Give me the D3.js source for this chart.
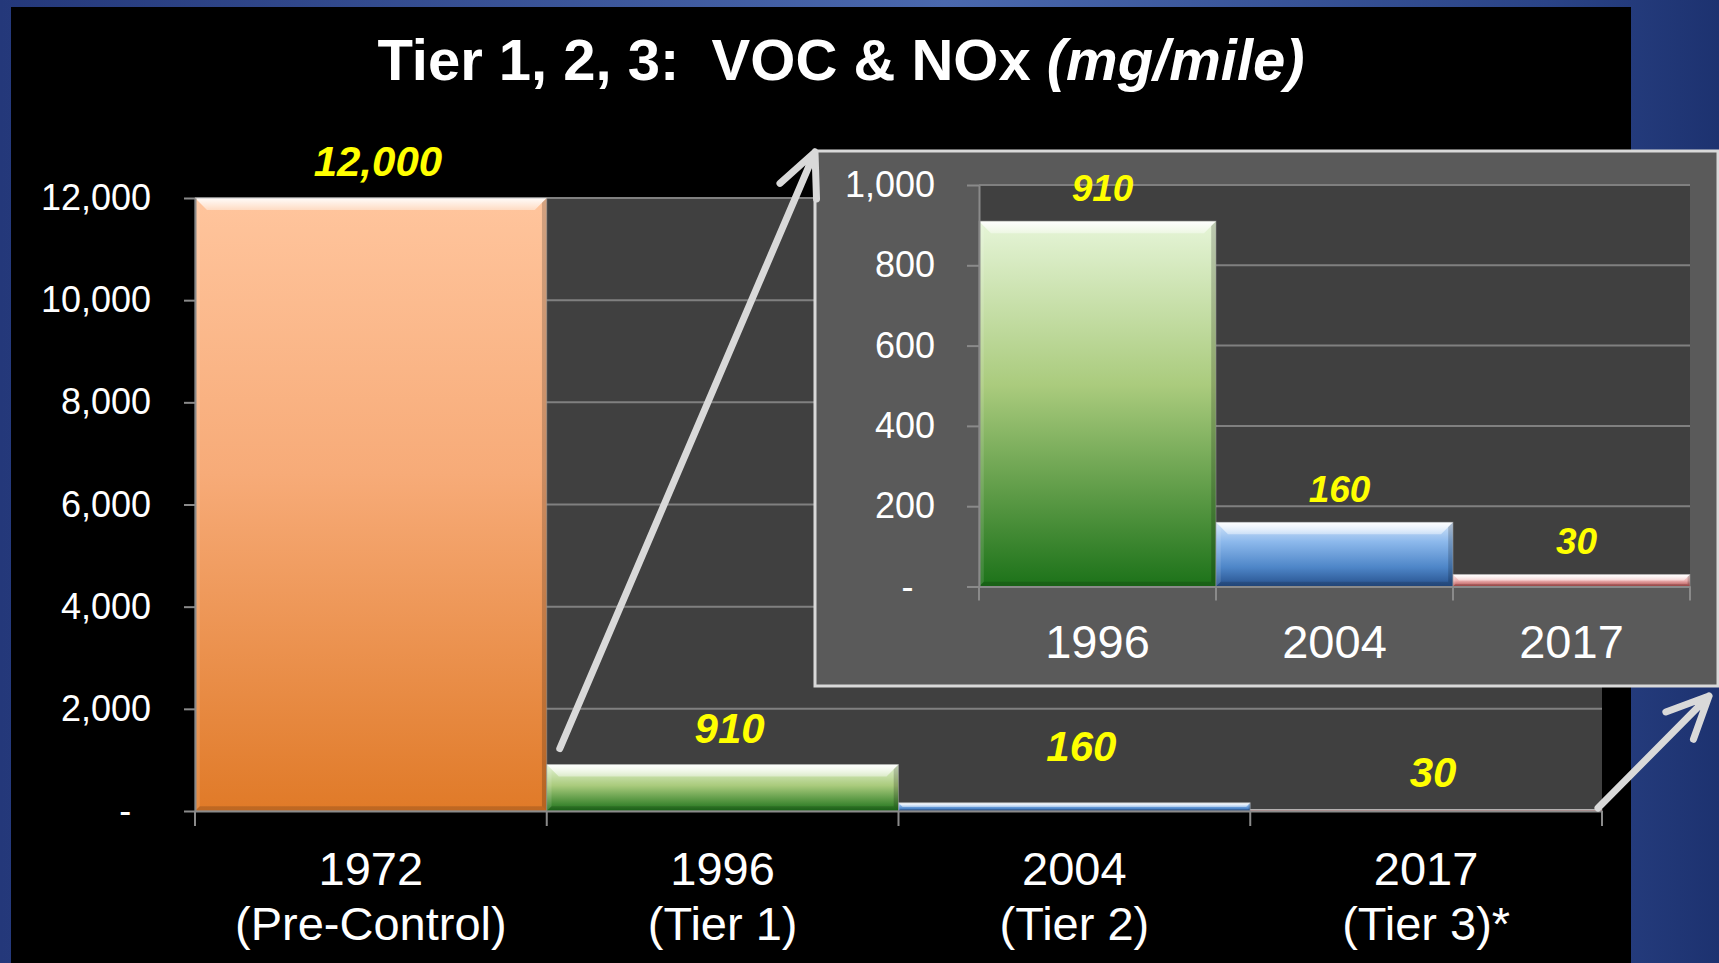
<!DOCTYPE html>
<html>
<head>
<meta charset="utf-8">
<script src="https://cdn.jsdelivr.net/npm/d3@7"></script>
<style>
  html, body { margin: 0; padding: 0; background: #000; overflow: hidden; }
  svg { display: block; }
  text { font-family: "Liberation Sans", Arial, Helvetica, sans-serif; }
</style>
</head>
<body>
<svg id="chart" width="1719" height="963"></svg>
<script>
// ---------------- data ----------------
const mainYears  = ["1972", "1996", "2004", "2017"];
const mainTiers  = ["(Pre-Control)", "(Tier 1)", "(Tier 2)", "(Tier 3)*"];
const mainValues = [12000, 910, 160, 30];
const mainTicks  = [0, 2000, 4000, 6000, 8000, 10000, 12000];

const insetYears  = ["1996", "2004", "2017"];
const insetValues = [910, 160, 30];
const insetTicks  = [0, 200, 400, 600, 800, 1000];

const titleMain   = "Tier 1, 2, 3:  VOC & NOx ";
const titleItalic = "(mg/mile)";

// ---------------- styles ----------------
const barGradients = {
  "1972": [["0%", "#FFC59D"], ["45%", "#F7AB78"], ["100%", "#E07A28"]],
  "1996": [["0%", "#E6F5D8"], ["45%", "#AACB7D"], ["100%", "#1C7219"]],
  "2004": [["0%", "#D5E6FA"], ["30%", "#8DB9EC"], ["70%", "#4E86C8"], ["100%", "#26508C"]],
  "2017": [["0%", "#FBE6E6"], ["50%", "#EDB2B2"], ["100%", "#B04A4A"]]
};
const gridColor = "#808080";
const axisColor = "#8a8a8a";
const labelColor = "#FFFF00";
const mainLabelLift = { "2004": 20 };   // manual nudge of the 160 label in the main chart

const svg = d3.select("#chart");
const W = 1719, H = 963;
const defs = svg.append("defs");

// background (blue frame)
const bg = defs.append("linearGradient").attr("id", "bgGrad")
  .attr("x1", "0%").attr("y1", "0%").attr("x2", "100%").attr("y2", "0%");
[["0%", "#24387a"], ["55%", "#4a68ad"], ["90%", "#2a4386"], ["100%", "#1d3270"]]
  .forEach(s => bg.append("stop").attr("offset", s[0]).attr("stop-color", s[1]));
svg.append("rect").attr("width", W).attr("height", H).attr("fill", "url(#bgGrad)");
svg.append("rect").attr("x", 11).attr("y", 7).attr("width", 1631 - 11).attr("height", H - 7).attr("fill", "#000");

// gradients for bars
Object.entries(barGradients).forEach(([k, stops]) => {
  const g = defs.append("linearGradient").attr("id", "bar" + k)
    .attr("x1", 0).attr("y1", 0).attr("x2", 0).attr("y2", 1);
  stops.forEach(s => g.append("stop").attr("offset", s[0]).attr("stop-color", s[1]));
});
const bevel = defs.append("linearGradient").attr("id", "bevelTop")
  .attr("x1", 0).attr("y1", 0).attr("x2", 0).attr("y2", 1);
bevel.append("stop").attr("offset", "0%").attr("stop-color", "#fff").attr("stop-opacity", 0.95);
bevel.append("stop").attr("offset", "100%").attr("stop-color", "#fff").attr("stop-opacity", 0.4);

// title
const title = svg.append("text").attr("x", 841).attr("y", 80).attr("text-anchor", "middle")
  .attr("fill", "#fff").attr("font-size", 58).attr("font-weight", "bold");
title.append("tspan").text(titleMain).style("white-space", "pre");
title.append("tspan").attr("font-style", "italic").text(titleItalic);
title.attr("xml:space", "preserve");

// bar drawing with bevel
function drawBar(g, x, y, w, h, key, bevelMax) {
  const b = Math.min(bevelMax, h * 0.5);
  g.append("rect").attr("x", x).attr("y", y).attr("width", w).attr("height", h)
    .attr("fill", `url(#bar${key})`);
  g.append("path")
    .attr("d", `M${x},${y}L${x + w},${y}L${x + w - b},${y + b}L${x + b},${y + b}Z`)
    .attr("fill", "url(#bevelTop)");
  g.append("path")
    .attr("d", `M${x + w},${y}L${x + w},${y + h}L${x + w - b * 0.4},${y + h - b * 0.4}L${x + w - b * 0.4},${y + b * 0.4}Z`)
    .attr("fill", "#000").attr("opacity", 0.18);
  g.append("path")
    .attr("d", `M${x},${y}L${x},${y + h}L${x + b * 0.4},${y + h - b * 0.4}L${x + b * 0.4},${y + b * 0.4}Z`)
    .attr("fill", "#fff").attr("opacity", 0.12);
  g.append("path")
    .attr("d", `M${x},${y + h}L${x + w},${y + h}L${x + w - b * 0.4},${y + h - b * 0.4}L${x + b * 0.4},${y + h - b * 0.4}Z`)
    .attr("fill", "#000").attr("opacity", 0.15);
  g.append("rect").attr("x", x).attr("y", y).attr("width", w).attr("height", h)
    .attr("fill", "none").attr("stroke", "#9a9a9a").attr("stroke-opacity", 0.55).attr("stroke-width", 1);
}

const fmt = d => d === 0 ? "-" : d3.format(",")(d);

function styleAxis(g) {
  g.select(".domain").attr("stroke", axisColor).attr("stroke-width", 2);
  g.selectAll(".tick line").attr("stroke", axisColor).attr("stroke-width", 2);
  g.selectAll(".tick text").attr("fill", "#fff")
    .style("font-family", '"Liberation Sans", Arial, Helvetica, sans-serif').attr("font-size", 36);
}

// ---------------- main chart ----------------
const xMain = d3.scaleBand().domain(mainYears).range([195, 1602]).padding(0);
const yMain = d3.scaleLinear().domain([0, 12000]).range([811, 198]);

const main = svg.append("g");
main.append("rect").attr("x", xMain.range()[0]).attr("y", yMain(12000))
  .attr("width", xMain.range()[1] - xMain.range()[0]).attr("height", yMain(0) - yMain(12000))
  .attr("fill", "#404040");
main.append("g").selectAll("line").data(mainTicks.filter(d => d > 0)).join("line")
  .attr("x1", xMain.range()[0]).attr("x2", xMain.range()[1])
  .attr("y1", d => yMain(d)).attr("y2", d => yMain(d))
  .attr("stroke", gridColor).attr("stroke-width", 2);

const mainBars = main.append("g");
mainYears.forEach((yr, i) => {
  const v = mainValues[i];
  drawBar(mainBars, xMain(yr), yMain(v), xMain.bandwidth(), yMain(0) - yMain(v), yr, 12);
});

const yAxisMain = main.append("g").attr("transform", `translate(${xMain.range()[0]},0)`)
  .call(d3.axisLeft(yMain).tickValues(mainTicks).tickFormat(fmt).tickSize(11).tickPadding(33).tickSizeOuter(0));
styleAxis(yAxisMain);
yAxisMain.selectAll(".tick text").filter(d => d === 0).attr("dx", "-0.55em");

const xAxisMain = main.append("g").attr("transform", `translate(0,${yMain(0)})`)
  .call(d3.axisBottom(xMain).tickSize(0).tickFormat("").tickSizeOuter(0));
styleAxis(xAxisMain);
xAxisMain.selectAll(".tick").remove();
xAxisMain.selectAll("line.bnd").data(mainYears.map(d => xMain(d)).concat([xMain.range()[1]])).join("line")
  .attr("class", "bnd").attr("x1", d => d).attr("x2", d => d).attr("y1", 0).attr("y2", 15)
  .attr("stroke", axisColor).attr("stroke-width", 2);

const xlabels = main.append("g").selectAll("text").data(mainYears).join("text")
  .attr("text-anchor", "middle").attr("fill", "#fff").attr("font-size", 47);
xlabels.append("tspan").attr("x", d => xMain(d) + xMain.bandwidth() / 2).attr("y", 885).text(d => d);
xlabels.append("tspan").attr("x", d => xMain(d) + xMain.bandwidth() / 2).attr("y", 940)
  .text((d, i) => mainTiers[i]);

main.append("g").selectAll("text").data(mainYears).join("text")
  .attr("x", d => xMain(d) + xMain.bandwidth() / 2 + 7)
  .attr("y", (d, i) => yMain(mainValues[i]) - 22 - (mainLabelLift[d] || 0))
  .attr("text-anchor", "middle").attr("fill", labelColor)
  .attr("font-size", 42).attr("font-weight", "bold").attr("font-style", "italic")
  .text((d, i) => d3.format(",")(mainValues[i]));

// ---------------- inset chart ----------------
const box = { x: 815, y: 151, w: 903, h: 535 };
const xIn = d3.scaleBand().domain(insetYears).range([979, 1690]).padding(0);
const yIn = d3.scaleLinear().domain([0, 1000]).range([586.5, 185]);

const inset = svg.append("g");
inset.append("rect").attr("x", box.x).attr("y", box.y).attr("width", box.w).attr("height", box.h)
  .attr("fill", "#5a5a5a").attr("stroke", "#d9d9d9").attr("stroke-width", 3);
inset.append("rect").attr("x", xIn.range()[0]).attr("y", yIn(1000))
  .attr("width", xIn.range()[1] - xIn.range()[0]).attr("height", yIn(0) - yIn(1000))
  .attr("fill", "#404040");
inset.append("g").selectAll("line").data(insetTicks.filter(d => d > 0)).join("line")
  .attr("x1", xIn.range()[0]).attr("x2", xIn.range()[1])
  .attr("y1", d => yIn(d)).attr("y2", d => yIn(d))
  .attr("stroke", gridColor).attr("stroke-width", 2);

const inBars = inset.append("g");
insetYears.forEach((yr, i) => {
  const v = insetValues[i];
  drawBar(inBars, xIn(yr), yIn(v), xIn.bandwidth(), yIn(0) - yIn(v), yr, 12);
});

const yAxisIn = inset.append("g").attr("transform", `translate(${xIn.range()[0]},0)`)
  .call(d3.axisLeft(yIn).tickValues(insetTicks).tickFormat(fmt).tickSize(12).tickPadding(32).tickSizeOuter(0));
styleAxis(yAxisIn);
yAxisIn.selectAll(".tick text").filter(d => d === 0).attr("dx", "-0.6em");

const xAxisIn = inset.append("g").attr("transform", `translate(0,${yIn(0)})`)
  .call(d3.axisBottom(xIn).tickSize(0).tickFormat("").tickSizeOuter(0));
styleAxis(xAxisIn);
xAxisIn.selectAll(".tick").remove();
xAxisIn.selectAll("line.bnd").data(insetYears.map(d => xIn(d)).concat([xIn.range()[1]])).join("line")
  .attr("class", "bnd").attr("x1", d => d).attr("x2", d => d).attr("y1", 0).attr("y2", 14)
  .attr("stroke", axisColor).attr("stroke-width", 2);

inset.append("g").selectAll("text").data(insetYears).join("text")
  .attr("x", d => xIn(d) + xIn.bandwidth() / 2).attr("y", 658)
  .attr("text-anchor", "middle").attr("fill", "#fff").attr("font-size", 47).text(d => d);

inset.append("g").selectAll("text").data(insetYears).join("text")
  .attr("x", d => xIn(d) + xIn.bandwidth() / 2 + 5)
  .attr("y", (d, i) => yIn(insetValues[i]) - 20)
  .attr("text-anchor", "middle").attr("fill", labelColor)
  .attr("font-size", 37).attr("font-weight", "bold").attr("font-style", "italic")
  .text((d, i) => d3.format(",")(insetValues[i]));

// ---------------- arrows ----------------
function arrow(x1, y1, x2, y2, wing) {
  const a = Math.atan2(y1 - y2, x1 - x2);
  const ang = 25 * Math.PI / 180;
  const w1 = [x2 + wing * Math.cos(a + ang), y2 + wing * Math.sin(a + ang)];
  const w2 = [x2 + wing * Math.cos(a - ang), y2 + wing * Math.sin(a - ang)];
  svg.append("path")
    .attr("d", `M${x1},${y1}L${x2},${y2}M${w1[0]},${w1[1]}L${x2},${y2}L${w2[0]},${w2[1]}`)
    .attr("fill", "none").attr("stroke", "#d9d9d9").attr("stroke-width", 7)
    .attr("stroke-linecap", "round").attr("stroke-linejoin", "round");
}
arrow(xMain("1996") + 13, yMain(910) - 16, box.x, box.y + 1, 47);
arrow(xMain.range()[1] - 4, yMain(0) - 3, box.x + box.w - 9, box.y + box.h + 10, 46);
</script>
</body>
</html>
